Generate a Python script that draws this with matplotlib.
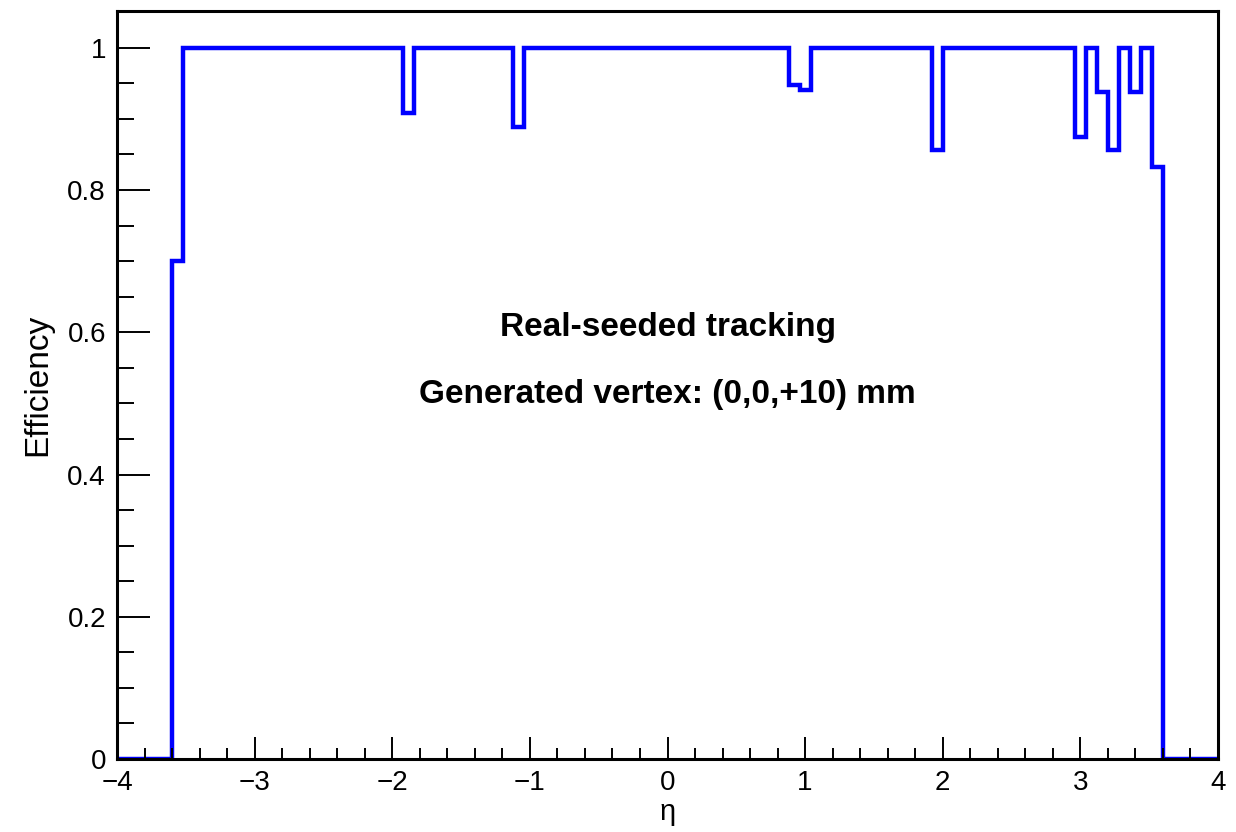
import matplotlib
matplotlib.use("Agg")
import matplotlib.pyplot as plt
from matplotlib.ticker import MultipleLocator, FuncFormatter

plt.rcParams['font.family'] = ['Liberation Sans', 'DejaVu Sans']

# 100 bins of width 0.08 from -4 to 4
eta_min, eta_max, n_bins = -4.0, 4.0, 100
efficiency = [
    0, 0, 0, 0, 0, 0.70, 1, 1, 1, 1,
    1, 1, 1, 1, 1, 1, 1, 1, 1, 1,
    1, 1, 1, 1, 1, 1, 0.909, 1, 1, 1,
    1, 1, 1, 1, 1, 1, 0.889, 1, 1, 1,
    1, 1, 1, 1, 1, 1, 1, 1, 1, 1,
    1, 1, 1, 1, 1, 1, 1, 1, 1, 1,
    1, 0.947, 0.941, 1, 1, 1, 1, 1, 1, 1,
    1, 1, 1, 1, 0.857, 1, 1, 1, 1, 1,
    1, 1, 1, 1, 1, 1, 1, 0.875, 1, 0.9375,
    0.857, 1, 0.9375, 1, 0.833, 0, 0, 0, 0, 0,
]
edges = [eta_min + i * (eta_max - eta_min) / n_bins for i in range(n_bins + 1)]

fig = plt.figure(figsize=(12.36, 8.32), dpi=100)
ax = fig.add_axes([0.0947, 0.0877, 0.8907, 0.8993])

ax.stairs(efficiency, edges, color='#0000ff', linewidth=3.2, baseline=None)

ax.set_xlim(-4, 4)
ax.set_ylim(0, 1.052)

ax.xaxis.set_major_locator(MultipleLocator(1))
ax.xaxis.set_minor_locator(MultipleLocator(0.2))
ax.yaxis.set_major_locator(MultipleLocator(0.2))
ax.yaxis.set_minor_locator(MultipleLocator(0.05))
ax.yaxis.set_major_formatter(FuncFormatter(lambda v, p: '%g' % round(v, 2)))

ax.tick_params(axis='both', which='both', direction='in', width=1.4, labelsize=20, colors='black')
ax.tick_params(axis='x', which='major', length=16, pad=8)
ax.tick_params(axis='x', which='minor', length=8)
ax.tick_params(axis='y', which='major', length=24, pad=8)
ax.tick_params(axis='y', which='minor', length=12)

for s in ax.spines.values():
    s.set_linewidth(2.2)

ax.set_xlabel('η', fontsize=21, labelpad=1)
ax.set_ylabel('Efficiency', fontsize=24, labelpad=10)

ax.text(0.0, 0.607, 'Real-seeded tracking', ha='center', va='center',
        fontsize=24, fontweight='bold')
ax.text(0.0, 0.512, 'Generated vertex: (0,0,+10) mm', ha='center', va='center',
        fontsize=24, fontweight='bold')

fig.savefig('out.png', dpi=100)
